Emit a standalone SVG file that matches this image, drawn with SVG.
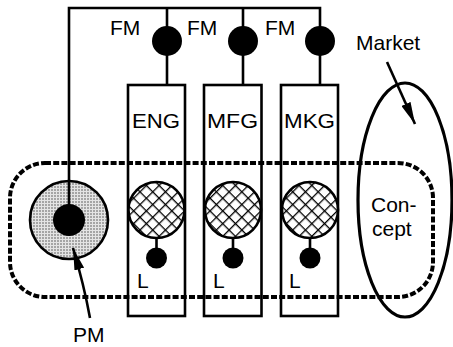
<svg xmlns="http://www.w3.org/2000/svg" width="453" height="347" viewBox="0 0 453 347">
<style>
.ln{fill:none;stroke:#000;stroke-width:2.6}
.box{fill:none;stroke:#000;stroke-width:2.6}
.dot{fill:#000}
.hatch{fill:url(#xh);stroke:#000;stroke-width:2.6}
.t{font-family:"Liberation Sans",Arial,sans-serif;font-size:21px;fill:#000}
.dash{fill:none;stroke:#000;stroke-width:4;stroke-dasharray:6 2.2}
</style>
<defs>
<pattern id="xh" width="9" height="9" patternUnits="userSpaceOnUse" patternTransform="rotate(45)">
<rect width="9" height="9" fill="#fff"/>
<line x1="0" y1="0" x2="9" y2="0" stroke="#000" stroke-width="2.6"/>
<line x1="0" y1="0" x2="0" y2="9" stroke="#000" stroke-width="2.6"/>
</pattern>
<pattern id="stip" width="3" height="3" patternUnits="userSpaceOnUse">
<rect width="3" height="3" fill="#e4e4e4"/>
<circle cx="1" cy="1" r="0.8" fill="#555"/>
</pattern>
<marker id="ah" viewBox="0 0 22 10" refX="22" refY="5" markerWidth="22" markerHeight="10" markerUnits="userSpaceOnUse" orient="auto">
<path d="M0,0 L22,5 L0,10 Z" fill="#000"/>
</marker>
</defs>

<g id="concept-boundary">
<rect class="dash" x="10" y="163" width="423" height="134" rx="35" ry="35"/>
</g>

<g id="pm">
<circle cx="69" cy="220" r="39" fill="url(#stip)" stroke="#000" stroke-width="2.6"/>
<circle class="dot" cx="69" cy="220" r="16"/>
<text class="t" x="73" y="342">PM</text>
</g>

<g id="eng">
<rect class="box" x="128" y="85" width="57" height="231"/>
<text class="t" x="132" y="128" textLength="48" lengthAdjust="spacingAndGlyphs">ENG</text>
<circle class="hatch" cx="156.5" cy="210" r="28"/>
<line class="ln" x1="156.5" y1="238" x2="156.5" y2="250"/>
<circle class="dot" cx="156.5" cy="258" r="10.5"/>
<text class="t" x="137" y="288">L</text>
</g>

<g id="mfg">
<rect class="box" x="204" y="85" width="57.5" height="231"/>
<text class="t" x="207" y="128" textLength="51" lengthAdjust="spacingAndGlyphs">MFG</text>
<circle class="hatch" cx="233" cy="210" r="28"/>
<line class="ln" x1="233" y1="238" x2="233" y2="250"/>
<circle class="dot" cx="233" cy="258" r="10.5"/>
<text class="t" x="213" y="288">L</text>
</g>

<g id="mkg">
<rect class="box" x="281" y="85" width="57" height="231"/>
<text class="t" x="284" y="128" textLength="51" lengthAdjust="spacingAndGlyphs">MKG</text>
<circle class="hatch" cx="310" cy="210" r="28"/>
<line class="ln" x1="310" y1="238" x2="310" y2="250"/>
<circle class="dot" cx="310" cy="258" r="10.5"/>
<text class="t" x="289" y="288">L</text>
</g>

<g id="fm1">
<circle class="dot" cx="167" cy="41" r="15"/>
<text class="t" x="110" y="35">FM</text>
</g>
<g id="fm2">
<circle class="dot" cx="243" cy="41" r="15"/>
<text class="t" x="187" y="35">FM</text>
</g>
<g id="fm3">
<circle class="dot" cx="320" cy="41" r="15"/>
<text class="t" x="265" y="35">FM</text>
</g>

<g id="market">
<ellipse cx="405" cy="200" rx="47" ry="117" fill="none" stroke="#000" stroke-width="3.2"/>
<text class="t" x="356" y="50">Market</text>
</g>

<g id="concept-label">
<text class="t" x="371" y="212">Con-</text>
<text class="t" x="372" y="236">cept</text>
</g>

<g id="connectors">
<polyline class="ln" points="69,220 69,8 320,8 320,85"/>
<line class="ln" x1="167" y1="8" x2="167" y2="85"/>
<line class="ln" x1="243" y1="8" x2="243" y2="85"/>
<line class="ln" x1="387" y1="62" x2="415" y2="124" marker-end="url(#ah)"/>
<path class="ln" d="M90,318 Q84,285 73,248" marker-end="url(#ah)"/>
</g>
</svg>
